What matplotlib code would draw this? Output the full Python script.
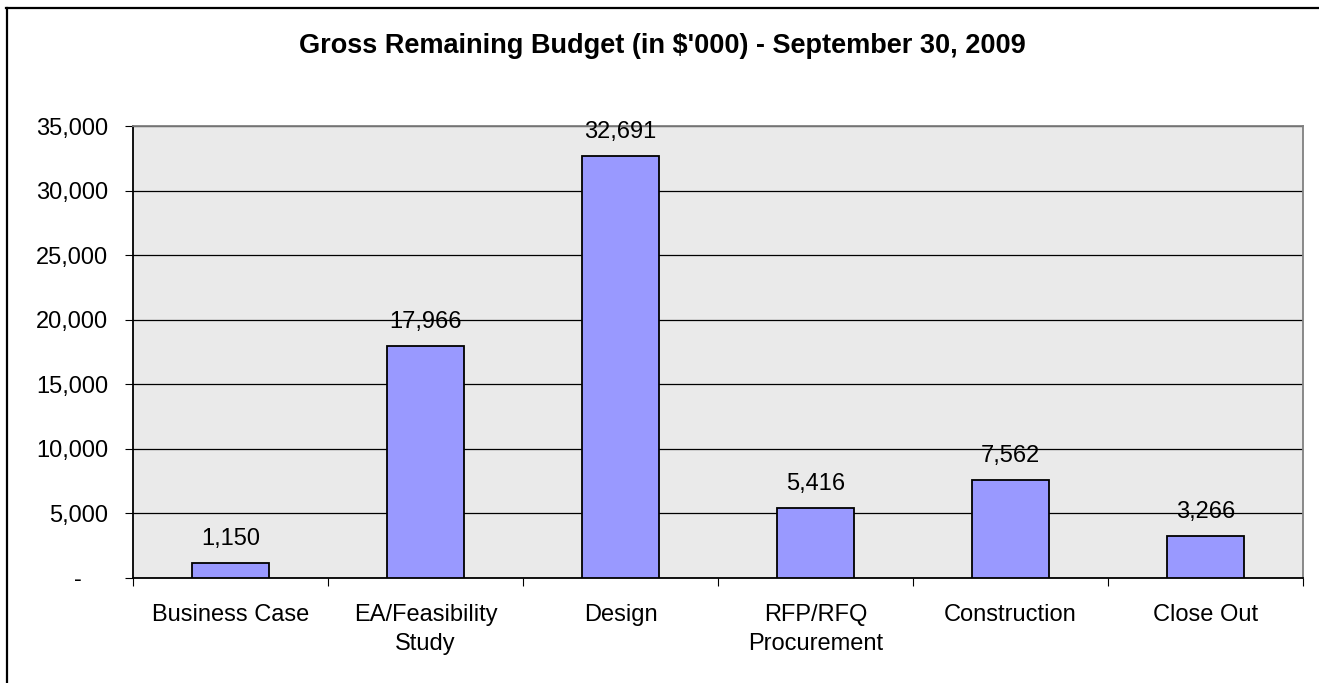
import matplotlib
matplotlib.use("Agg")
import matplotlib.pyplot as plt
from matplotlib.lines import Line2D
from matplotlib.ticker import FuncFormatter

categories = ["Business Case", "EA/Feasibility\nStudy", "Design", "RFP/RFQ\nProcurement", "Construction", "Close Out"]
values = [1150, 17966, 32691, 5416, 7562, 3266]
yticks = [0, 5000, 10000, 15000, 20000, 25000, 30000, 35000]
title = "Gross Remaining Budget (in $'000) - September 30, 2009"

plt.rcParams['font.family'] = ['Liberation Sans', 'DejaVu Sans']

W, H = 1319, 683
fig = plt.figure(figsize=(W / 100, H / 100), dpi=100)
# outer chart border (top and left visible)
fig.add_artist(Line2D([6 / W, 1.0], [1 - 7.5 / H, 1 - 7.5 / H], transform=fig.transFigure,
                      color='black', linewidth=1.6))
fig.add_artist(Line2D([6.5 / W, 6.5 / W], [0.0, 1 - 7.5 / H], transform=fig.transFigure,
                      color='black', linewidth=1.6))

ax = fig.add_axes([133 / W, 1 - 578 / H, (1303 - 133) / W, (578 - 126) / H])
ax.set_facecolor('#EAEAEA')

x = list(range(len(categories)))
ax.bar(x, values, width=0.395, color='#9999FF', edgecolor='black', linewidth=1.3, zorder=3)
ax.set_xlim(-0.5, len(categories) - 0.5)
ax.set_ylim(0, 35000)
ax.set_yticks(yticks)
ax.yaxis.set_major_formatter(FuncFormatter(lambda v, p: '-    ' if v == 0 else f"{int(v):,}"))
ax.grid(axis='y', color='black', linewidth=0.9, zorder=1)
ax.set_axisbelow(True)

ax.set_xticks([i - 0.5 for i in range(len(categories) + 1)])
ax.set_xticklabels([])
ax.set_xticks(x, minor=True)
ax.set_xticklabels(categories, minor=True, fontsize=17, linespacing=1.4)
ax.tick_params(axis='x', which='minor', length=0, pad=19)
ax.tick_params(axis='x', which='major', length=6, direction='out', color='black')
ax.tick_params(axis='y', length=6, direction='out', labelsize=17, pad=12)

for side in ['top', 'right']:
    ax.spines[side].set_color('#808080')
    ax.spines[side].set_linewidth(1.3)
for side in ['left', 'bottom']:
    ax.spines[side].set_color('black')
    ax.spines[side].set_linewidth(1.3)

for xi, v in zip(x, values):
    ax.annotate(f"{v:,}", (xi, v), xytext=(0, 13), textcoords='offset points',
                ha='center', va='baseline', fontsize=17, zorder=5)

fig.text(0.5 + 3 / W, 1 - 46 / H, title, ha='center', va='center', fontsize=19.5, fontweight='bold')

fig.savefig("out.png", dpi=100)
